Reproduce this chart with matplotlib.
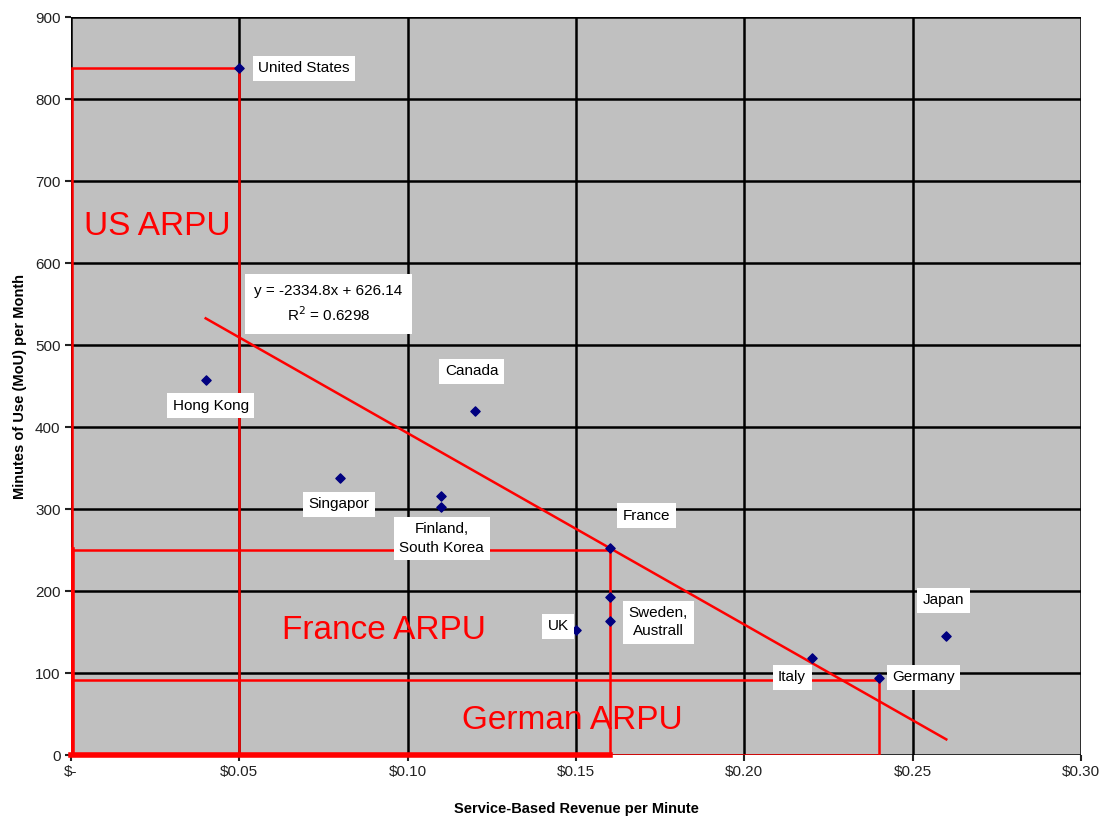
import numpy as np
import matplotlib
matplotlib.use("Agg")
import matplotlib.pyplot as plt
from matplotlib.patches import Rectangle

plt.rcParams['font.family'] = ['Liberation Sans', 'DejaVu Sans']

# revenue per minute ($) and minutes of use per month
countries = ['United States', 'Hong Kong', 'Canada', 'Singapore', 'Finland', 'South Korea',
             'France', 'Sweden', 'Australia', 'UK', 'Italy', 'Germany', 'Japan']
rev = [0.05, 0.04, 0.12, 0.08, 0.11, 0.11, 0.16, 0.16, 0.16, 0.15, 0.22, 0.24, 0.26]
mou = [838, 458, 420, 338, 316, 302, 252, 193, 163, 152, 118, 94, 145]

# trendline from the chart
slope, intercept = -2334.8, 626.14
r2 = 0.6298

# ARPU boxes: (name, revenue, mou)
arpu = [('US ARPU', 0.05, 838), ('France ARPU', 0.16, 250), ('German ARPU', 0.24, 92)]

# data labels: text, x, y
labels = [('United States', 0.0692, 838), ('Hong Kong', 0.0415, 426), ('Canada', 0.119, 468),
          ('Singapor', 0.0795, 306), ('Finland,\nSouth Korea', 0.1101, 264), ('France', 0.1709, 292),
          ('UK', 0.1447, 157), ('Sweden,\nAustrall', 0.1745, 162), ('Japan', 0.2592, 189),
          ('Italy', 0.2142, 95), ('Germany', 0.2532, 95)]

fig = plt.figure(figsize=(11.03, 8.24), dpi=100)
ax = fig.add_axes([0.0644, 0.0837, 0.9156, 0.8953])
ax.set_facecolor('#c0c0c0')

ax.set_xlim(0, 0.30)
ax.set_ylim(0, 900)
xt = np.arange(0, 0.301, 0.05)
ax.set_xticks(xt)
ax.set_xticklabels(['$-'] + ['$%.2f' % v for v in xt[1:]])
ax.set_yticks(np.arange(0, 901, 100))
ax.grid(True, color='black', linewidth=1.8)
ax.set_axisbelow(True)
for s in ax.spines.values():
    s.set_visible(False)
ax.tick_params(labelsize=11, colors='#222222', length=4, width=1.5, direction='out')

ax.scatter(rev, mou, s=22, marker='D', color='#000080', zorder=4)

tx = np.array([min(rev), max(rev)])
ax.plot(tx, slope * tx + intercept, color='red', linewidth=1.8, zorder=3)

for name, r, m in arpu:
    ax.add_patch(Rectangle((0.0003, 0), r - 0.0003, m, fill=False, edgecolor='red',
                           linewidth=1.8, zorder=3))
ax.plot([0.0003, 0.0003], [0, 250], color='red', linewidth=4, zorder=3)
ax.plot([0, 0.16], [0, 0], color='red', linewidth=4, zorder=3, clip_on=False)

ax.text(0.0255, 645, 'US ARPU', color='red', fontsize=24, ha='center', va='center')
ax.text(0.0930, 152, 'France ARPU', color='red', fontsize=24, ha='center', va='center')
ax.text(0.1490, 42, 'German ARPU', color='red', fontsize=24, ha='center', va='center')

box = dict(facecolor='white', edgecolor='none', pad=4)
for t, x, y in labels:
    ax.text(x, y, t, fontsize=11, ha='center', va='center', bbox=box, zorder=5,
            linespacing=1.4)

ax.text(0.0765, 550, 'y = -2334.8x + 626.14\nR$^2$ = 0.6298', fontsize=11, ha='center',
        va='center', bbox=dict(facecolor='white', edgecolor='none', pad=7), zorder=5,
        linespacing=1.5)

ax.set_xlabel('Service-Based Revenue per Minute', fontsize=10.5, fontweight='bold', labelpad=16)
ax.set_ylabel('Minutes of Use (MoU) per Month', fontsize=10.5, fontweight='bold', labelpad=6)

fig.savefig('out.png', dpi=100, facecolor='white')
